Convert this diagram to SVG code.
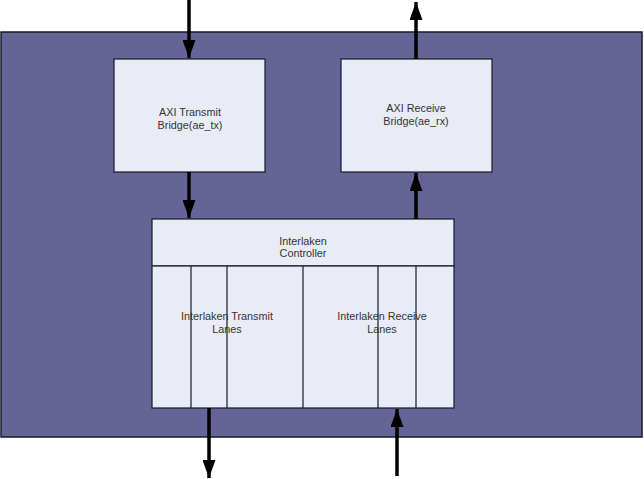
<svg xmlns="http://www.w3.org/2000/svg" width="644" height="479" viewBox="0 0 644 479">
<style>
.box{fill:#e9ebf5;stroke:#1a1a2a;stroke-width:1.2}
.lane{stroke:#1a1a2a;stroke-width:1.2}
.t{font-family:"Liberation Sans",Arial,sans-serif;font-size:10.8px;fill:#333;text-anchor:middle}
.c{stroke:#000;stroke-width:3.5;fill:none}
</style>
<defs>
<marker id="ah" viewBox="0 0 18 13" refX="18" refY="6.5" markerWidth="18" markerHeight="13" markerUnits="userSpaceOnUse" orient="auto">
<path d="M0,0 L18,6.5 L0,13 Z" fill="#000"/>
</marker>
</defs>
<rect width="644" height="479" fill="#fff"/>
<g id="outer"><rect x="1" y="32" width="641" height="405" fill="#646496" stroke="#1a1a2a" stroke-width="1.5"/></g>
<g id="tx-bridge">
<rect class="box" x="114" y="59" width="151" height="113"/>
<text class="t" x="190" y="116">AXI Transmit</text>
<text class="t" x="190" y="129">Bridge(ae_tx)</text>
</g>
<g id="rx-bridge">
<rect class="box" x="341" y="59" width="151" height="113"/>
<text class="t" x="416" y="112">AXI Receive</text>
<text class="t" x="416" y="125">Bridge(ae_rx)</text>
</g>
<g id="controller">
<rect class="box" x="152" y="219" width="302" height="47"/>
<text class="t" x="303" y="245">Interlaken</text>
<text class="t" x="303" y="257">Controller</text>
</g>
<g id="lanes">
<rect class="box" x="152" y="266" width="302" height="142"/>
<line class="lane" x1="191" y1="266" x2="191" y2="408"/>
<line class="lane" x1="227" y1="266" x2="227" y2="408"/>
<line class="lane" x1="303" y1="266" x2="303" y2="408"/>
<line class="lane" x1="378" y1="266" x2="378" y2="408"/>
<line class="lane" x1="416" y1="266" x2="416" y2="408"/>
<text class="t" x="227" y="320">Interlaken Transmit</text>
<text class="t" x="227" y="333">Lanes</text>
<text class="t" x="382" y="320">Interlaken Receive</text>
<text class="t" x="382" y="333">Lanes</text>
</g>
<g id="connectors">
<line class="c" x1="189" y1="0" x2="189" y2="58" marker-end="url(#ah)"/>
<line class="c" x1="189" y1="172" x2="189" y2="218" marker-end="url(#ah)"/>
<line class="c" x1="416" y1="219" x2="416" y2="173" marker-end="url(#ah)"/>
<line class="c" x1="416" y1="59" x2="416" y2="2" marker-end="url(#ah)"/>
<line class="c" x1="209" y1="408" x2="209" y2="478" marker-end="url(#ah)"/>
<line class="c" x1="397" y1="476" x2="397" y2="409" marker-end="url(#ah)"/>
</g>
</svg>
